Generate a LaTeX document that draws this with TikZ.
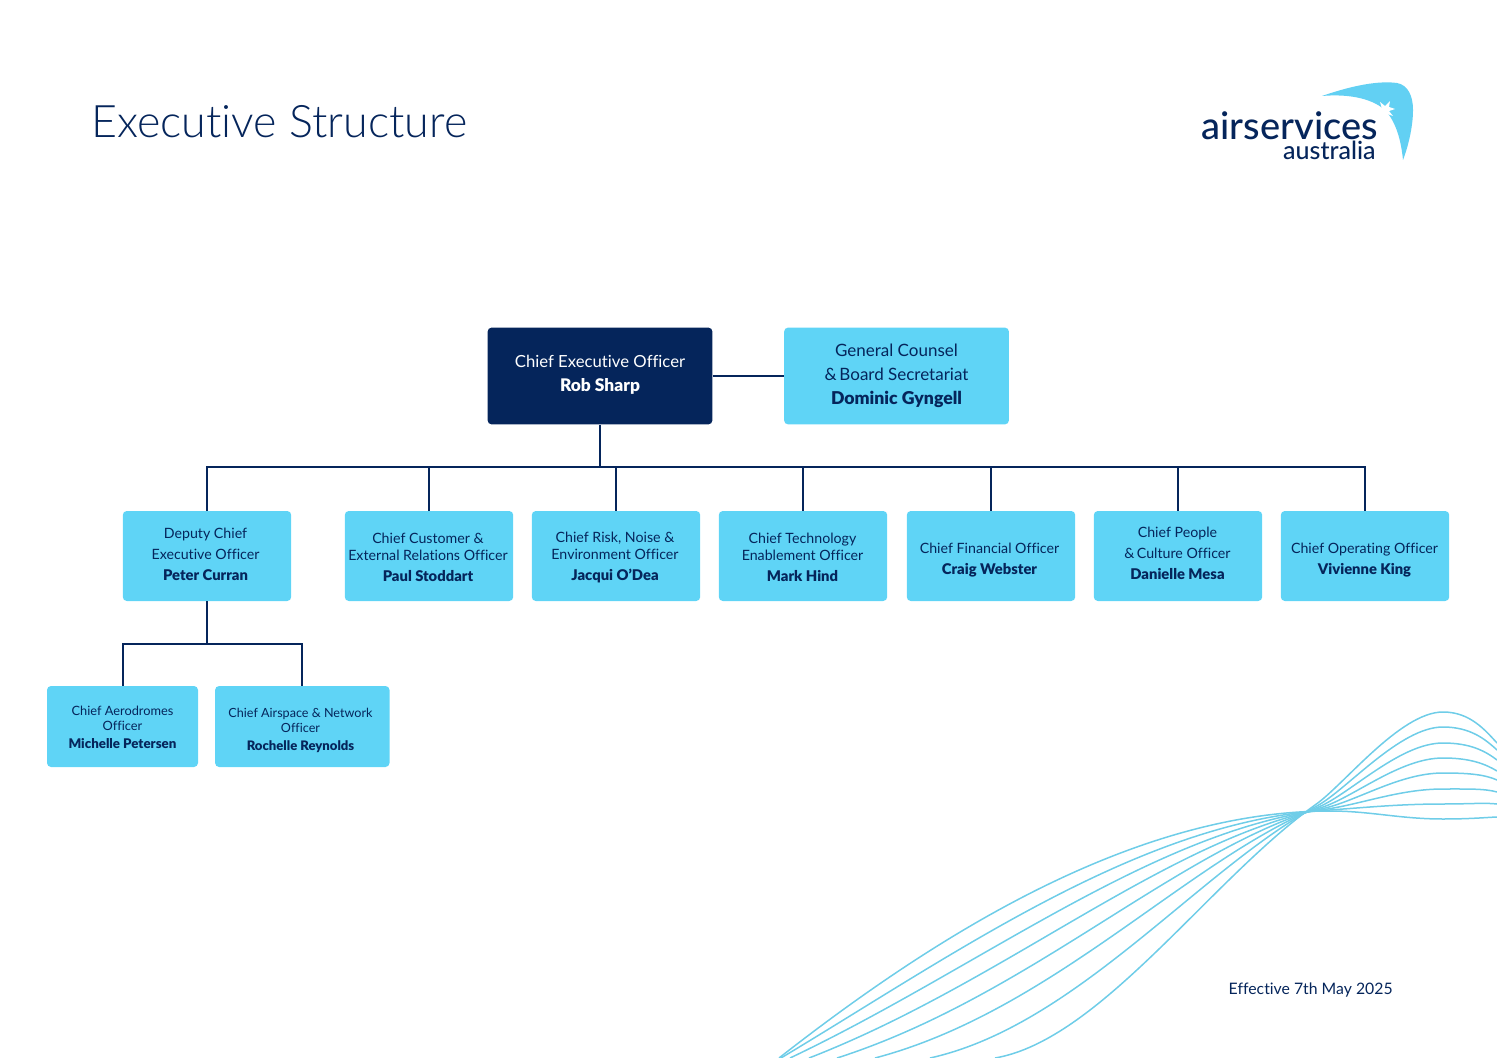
\documentclass[tikz,border=0pt]{standalone}
\usepackage{fontspec}
\setmainfont[Ligatures=NoCommon]{Lato}
\newfontfamily\namef[Ligatures=NoCommon,Scale=1.04]{Lato Black}
\newfontfamily\lightf[Ligatures=NoCommon]{Lato Light}
\newfontfamily\medf[Ligatures=NoCommon]{Lato Medium}
\newcommand{\who}[1]{{\namef #1}}
\definecolor{navy}{HTML}{05255B}
\definecolor{sky}{HTML}{5FD4F6}
\definecolor{wave}{HTML}{6FCDE8}
\definecolor{logosky}{HTML}{62D0F3}
\tikzset{
 orgbox/.style={fill=sky,rounded corners=2pt,inner sep=0pt,draw=none},
 lvlone/.style={orgbox,minimum width=112.4pt,minimum height=48.4pt},
 lvltwo/.style={orgbox,minimum width=84.2pt,minimum height=45pt},
 lvlthree/.style={orgbox,minimum height=40.5pt},
 lbl/.style={text=navy,align=center,inner sep=0pt},
 lblone/.style={lbl,font=\fontsize{8.5}{12}\selectfont},
 lbltwo/.style={lbl,font=\fontsize{7.1}{8.6}\selectfont},
 lblthree/.style={lbl,font=\fontsize{6.4}{7.4}\selectfont},
 link/.style={draw=navy,line width=1pt},
 wavel/.style={draw=wave,line width=0.75pt},
}
\begin{document}
\begin{tikzpicture}[x=0.5pt,y=-0.5pt]
\useasboundingbox (0,0) rectangle (1497,1058);
% waves
\foreach \k/\sx/\pk/\rr in {0/779/819/817,1/781/804/804,2/790/789/792,3/809/773/780,4/837/758/771,5/875/743/760,6/930/727/750,7/995/712/743}{
 \pgfmathsetmacro{\t}{\k/7}
 \pgfmathsetmacro{\cax}{930+170*\t}
 \pgfmathsetmacro{\cay}{940+100*\t}
 \pgfmathsetmacro{\cbx}{1130+80*\t}
 \pgfmathsetmacro{\cby}{811+69*\t}
 \pgfmathsetmacro{\ex}{1330-15*\t}
 \pgfmathsetmacro{\ey}{811-6*\t}
 \pgfmathsetmacro{\dax}{\ex+40-12*\t}
 \pgfmathsetmacro{\day}{811-25*\t}
 \pgfmathsetmacro{\fy}{\rr+0.5-13.5*\t}
 \draw[wavel] (\sx,1058) .. controls (\cax,\cay) and (\cbx,\cby) .. (\ex,\ey)
   .. controls (\dax,\day) and (1400,\pk) .. (1443,\pk)
   .. controls (1470,\pk) and (1485,\fy) .. (1497,\rr);
}
% title & footer
\node[anchor=base west,inner sep=0pt,text=navy,font=\lightf\fontsize{22.4}{24}\selectfont] (title) at (91,138) {Executive Structure};
\node[anchor=base east,inner sep=0pt,text=navy,font=\fontsize{7.9}{10}\selectfont] (eff) at (1393,994) {Effective 7th May 2025};
% logo
\fill[logosky] (1322,96) .. controls (1345,88) and (1375,80) .. (1397,83) .. controls (1408,85) and (1413,96) .. (1413,110)
  .. controls (1413,127) and (1408,147) .. (1403,160) .. controls (1401,140) and (1396,122) .. (1385,110)
  .. controls (1370,97) and (1345,94) .. (1322,96) -- cycle;
\fill[white] (1380,102) -- (1385,106) -- (1390,101) -- (1389,107) -- (1395,109) -- (1389,111) -- (1393,116) -- (1387,114) -- (1385,120) -- (1383,113) -- (1377,112) -- (1382,109) -- cycle;
\node[anchor=base east,inner sep=0pt,text=navy,font=\medf\fontsize{19}{22}\selectfont] (logoa) at (1378,139.5) {airservices};
\node[anchor=base east,inner sep=0pt,text=navy,font=\medf\fontsize{12.5}{15}\selectfont] (logob) at (1376,160) {australia};
% boxes
\node[lvlone,fill=navy] (ceo) at (600,376) {};
\node[lvlone] (gc) at (896.5,376) {};
\node[lvltwo] (dceo) at (207,556) {};
\node[lvltwo] (cust) at (429,556) {};
\node[lvltwo] (risk) at (616,556) {};
\node[lvltwo] (tech) at (803,556) {};
\node[lvltwo] (cfo) at (991,556) {};
\node[lvltwo] (ppl) at (1178,556) {};
\node[lvltwo] (coo) at (1365,556) {};
\node[lvlthree,minimum width=75.5pt] (aero) at (122.5,726.5) {};
\node[lvlthree,minimum width=87.2pt] (air) at (302.3,726.5) {};
% box texts
\node[lblone,text=white,font=\fontsize{8.35}{12}\selectfont] (ceot) at (600,374.5) {Chief Executive Officer\\\who{Rob Sharp}};
\node[lblone] (gct) at (896.5,375.5) {General Counsel\\\&\,Board Secretariat\\\who{Dominic Gyngell}};
\node[lbltwo] (dceot) at (205.5,554) {Deputy Chief\\[1.9pt]Executive Officer\\[1.9pt]\who{Peter Curran}};
\node[lbltwo] (custt) at (428,557.5) {Chief Customer \&\\External Relations Officer\\[2pt]\who{Paul Stoddart}};
\node[lbltwo] (riskt) at (615,557.5) {Chief Risk, Noise \&\\Environment Officer\\[2pt]\who{Jacqui O’Dea}};
\node[lbltwo] (techt) at (802.5,557.5) {Chief Technology\\Enablement Officer\\[2pt]\who{Mark Hind}};
\node[lbltwo] (cfot) at (989.5,560) {Chief Financial Officer\\[2pt]\who{Craig Webster}};
\node[lbltwo] (pplt) at (1177.5,553.5) {Chief People\\[2pt]\&\,Culture Officer\\[2pt]\who{Danielle Mesa}};
\node[lbltwo] (coot) at (1364.5,560) {Chief Operating Officer\\[2pt]\who{Vivienne King}};
\node[lblthree] (aerot) at (122.5,727.5) {Chief Aerodromes\\Officer\\[2pt]\who{Michelle Petersen}};
\node[lblthree,font=\fontsize{6.3}{7.4}\selectfont] (airt) at (300.5,730.5) {Chief Airspace \& Network\\Officer\\[2pt]\who{Rochelle Reynolds}};
% connectors
\coordinate (bus) at (600,467);
\coordinate (sub) at (207,644);
\draw[link] (ceo.east) -- (ceo.east -| gc.west);
\draw[link] (ceo.south) -- (bus);
\draw[link] (dceo.north) |- (bus);
\draw[link] (coo.north) |- (bus);
\foreach \n in {cust,risk,tech,cfo,ppl}{\draw[link] (\n.north) -- (\n.north |- bus);}
\draw[link] (dceo.south) -- (sub);
\draw[link] (aero.north) |- (sub);
\draw[link] (air.north) |- (sub);
\end{tikzpicture}
\end{document}
